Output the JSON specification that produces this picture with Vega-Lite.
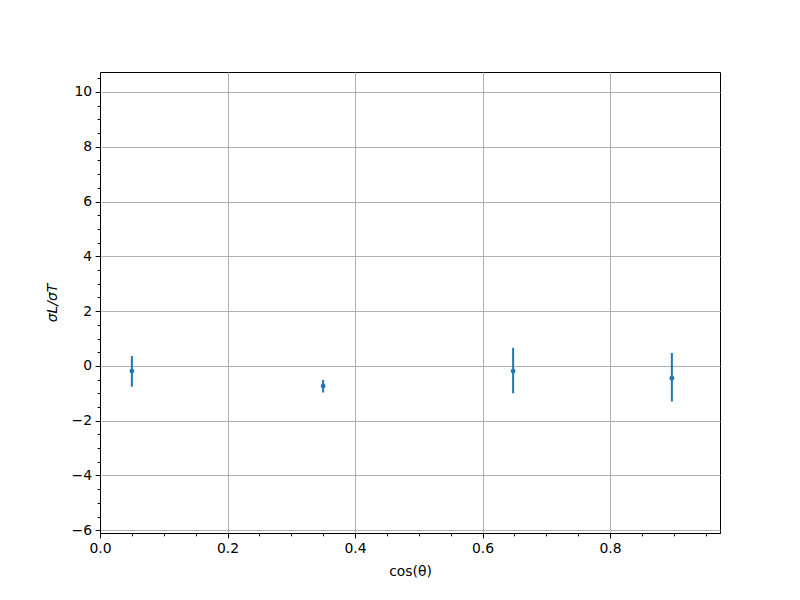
{
  "$schema": "https://vega.github.io/schema/vega-lite/v6.json",
  "width": 620,
  "height": 461,
  "autosize": "none",
  "padding": {"left": 100, "top": 72, "right": 80, "bottom": 67},
  "background": "white",
  "config": {
    "view": {"stroke": "black", "strokeWidth": 1},
    "font": "DejaVu Sans",
    "axis": {
      "labelFont": "DejaVu Sans",
      "titleFont": "DejaVu Sans",
      "labelFontSize": 13.9,
      "titleFontSize": 13.9,
      "titleFontWeight": "normal",
      "labelColor": "black",
      "titleColor": "black",
      "tickColor": "black",
      "domainColor": "black",
      "gridColor": "#b0b0b0",
      "gridWidth": 1,
      "tickSize": 4.9,
      "labelPadding": 3.5,
      "labelFlush": false,
      "labelOverlap": false
    }
  },
  "data": {
    "values": [
      {"x": 0.05, "y": -0.19, "ylo": -0.76, "yhi": 0.36},
      {"x": 0.35, "y": -0.73, "ylo": -0.97, "yhi": -0.51},
      {"x": 0.648, "y": -0.19, "ylo": -1.0, "yhi": 0.66},
      {"x": 0.897, "y": -0.45, "ylo": -1.3, "yhi": 0.47}
    ]
  },
  "resolve": {"axis": {"x": "independent", "y": "independent"}},
  "layer": [
    {
      "mark": {"type": "rule", "color": "#1f77b4", "strokeWidth": 2},
      "encoding": {
        "x": {
          "field": "x", "type": "quantitative",
          "scale": {"domain": [0, 0.9725], "nice": false, "zero": false},
          "axis": {
            "orient": "bottom",
            "title": "cos(θ)",
            "values": [0, 0.2, 0.4, 0.6, 0.8],
            "format": ".1f",
            "grid": true,
            "titlePadding": 9
          }
        },
        "y": {
          "field": "ylo", "type": "quantitative",
          "scale": {"domain": [-6.1, 10.73], "nice": false, "zero": false},
          "axis": {
            "orient": "left",
            "title": "σL/σT",
            "titleFontStyle": "italic",
            "values": [-6, -4, -2, 0, 2, 4, 6, 8, 10],
            "format": "d",
            "grid": true,
            "titlePadding": 12
          }
        },
        "y2": {"field": "yhi"}
      }
    },
    {
      "mark": {"type": "point", "filled": true, "color": "#1f77b4", "opacity": 1, "size": 24},
      "encoding": {
        "x": {
          "field": "x", "type": "quantitative",
          "axis": {
            "orient": "bottom",
            "title": null,
            "labels": false,
            "grid": false,
            "domain": false,
            "tickSize": 2.8,
            "values": [0.05, 0.1, 0.15, 0.25, 0.3, 0.35, 0.45, 0.5, 0.55, 0.65, 0.7, 0.75, 0.85, 0.9, 0.95]
          }
        },
        "y": {
          "field": "y", "type": "quantitative",
          "axis": {
            "orient": "left",
            "title": null,
            "labels": false,
            "grid": false,
            "domain": false,
            "tickSize": 2.8,
            "values": [-5.5, -5, -4.5, -3.5, -3, -2.5, -1.5, -1, -0.5, 0.5, 1, 1.5, 2.5, 3, 3.5, 4.5, 5, 5.5, 6.5, 7, 7.5, 8.5, 9, 9.5, 10.5]
          }
        }
      }
    }
  ]
}
